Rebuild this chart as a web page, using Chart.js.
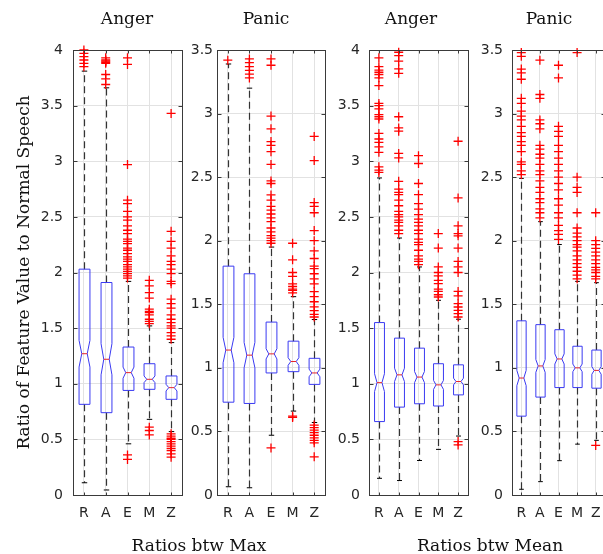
<!DOCTYPE html>
<html>
<head>
<meta charset="utf-8">
<script src="https://cdn.jsdelivr.net/npm/chart.js@4.4.0/dist/chart.umd.min.js"></script>
<style>
  html, body { margin: 0; padding: 0; background: #fff; }
  #lienzo { position: relative; width: 603px; height: 554px; overflow: hidden; }
  #lienzo canvas { position: absolute; top: 0; }
  .texto { position: absolute; font-family: 'DejaVu Serif', serif; font-size: 17px; line-height: 20px;
           color: #111; transform: translateX(-50%); white-space: nowrap; }
</style>
</head>
<body>
<div id="lienzo">
  <canvas id="panel0" width="190" height="554" style="left:0px"></canvas>
  <canvas id="panel1" width="150" height="554" style="left:185px"></canvas>
  <canvas id="panel2" width="140" height="554" style="left:335px"></canvas>
  <canvas id="panel3" width="140" height="554" style="left:475px"></canvas>
  <div class="texto" style="left:127px;top:8px">Anger</div>
  <div class="texto" style="left:266px;top:8px">Panic</div>
  <div class="texto" style="left:411px;top:8px">Anger</div>
  <div class="texto" style="left:549px;top:8px">Panic</div>
  <div class="texto" style="left:199px;top:535px">Ratios btw Max</div>
  <div class="texto" style="left:490px;top:535px">Ratios btw Mean</div>
</div>
<script>
// Datos
const categorias = ['R', 'A', 'E', 'M', 'Z'];
const limitesY = [4, 3.5, 4, 3.5];

// cada fila: [bigote inferior, q1, mediana, q3, bigote superior, media muesca]
const cajasMaxAnger = [
    [0.11, 0.815, 1.27, 2.03, 3.81, 0.12],
    [0.045, 0.74, 1.22, 1.91, 3.66, 0.14],
    [0.46, 0.94, 1.10, 1.33, 1.92, 0.05],
    [0.68, 0.95, 1.04, 1.18, 1.52, 0.03],
    [0.57, 0.86, 0.965, 1.07, 1.37, 0.03]
];
const cajasMaxPanic = [
    [0.065, 0.73, 1.14, 1.80, 3.39, 0.10],
    [0.057, 0.72, 1.10, 1.74, 3.20, 0.10],
    [0.47, 0.96, 1.11, 1.36, 1.95, 0.04],
    [0.66, 0.97, 1.05, 1.21, 1.56, 0.03],
    [0.57, 0.87, 0.96, 1.075, 1.38, 0.03]
];
const cajasMeanAnger = [
    [0.15, 0.66, 1.01, 1.55, 2.85, 0.08],
    [0.13, 0.79, 1.08, 1.41, 2.31, 0.06],
    [0.31, 0.82, 1.06, 1.32, 2.05, 0.05],
    [0.41, 0.80, 0.99, 1.18, 1.75, 0.04],
    [0.53, 0.90, 1.02, 1.17, 1.58, 0.03]
];
const cajasMeanPanic = [
    [0.045, 0.62, 0.92, 1.37, 2.49, 0.06],
    [0.105, 0.77, 1.015, 1.34, 2.15, 0.05],
    [0.27, 0.845, 1.07, 1.30, 1.97, 0.04],
    [0.40, 0.845, 1.0, 1.17, 1.68, 0.03],
    [0.43, 0.84, 0.98, 1.14, 1.67, 0.03]
];

// valores atipicos (+ rojos) por categoria
const atipicosMaxAnger = [
    [4.0, 3.97, 3.94, 3.91, 3.88, 3.85],
    [3.93, 3.91, 3.90, 3.89, 3.88, 3.78, 3.74, 3.69],
    [3.93, 3.87, 2.97, 2.65, 2.62, 2.55, 2.5, 2.47, 2.42, 2.38, 2.35, 2.3, 2.28, 2.26, 2.22, 2.2, 2.17,
     2.14, 2.12, 2.1, 2.07, 2.05, 2.03, 2.01, 1.99, 1.97, 1.95, 0.36, 0.32],
    [1.93, 1.88, 1.82, 1.77, 1.67, 1.65, 1.64, 1.62, 1.58, 1.56, 1.54, 0.61, 0.58, 0.54],
    [3.43, 2.37, 2.28, 2.22, 2.15, 2.1, 2.07, 2.03, 1.99, 1.92, 1.9, 1.76, 1.72, 1.68, 1.62, 1.58, 1.55,
     1.52, 1.5, 1.46, 1.43, 1.4, 0.55, 0.53, 0.51, 0.5, 0.48, 0.46, 0.44, 0.42, 0.4, 0.37, 0.34]
];
const atipicosMaxPanic = [
    [3.42],
    [3.43, 3.40, 3.37, 3.34, 3.31, 3.28],
    [3.43, 3.38, 2.98, 2.88, 2.78, 2.75, 2.70, 2.60, 2.47, 2.45, 2.36, 2.32, 2.27, 2.24, 2.21, 2.18,
     2.15, 2.1, 2.07, 2.04, 2.02, 2.0, 1.98, 0.37],
    [1.98, 1.85, 1.75, 1.72, 1.66, 1.64, 1.62, 1.61, 1.59, 0.62, 0.61],
    [2.82, 2.63, 2.3, 2.27, 2.22, 2.08, 2.0, 1.92, 1.86, 1.8, 1.78, 1.74, 1.7, 1.66, 1.6, 1.56, 1.52,
     1.48, 1.45, 1.42, 1.4, 0.55, 0.53, 0.51, 0.49, 0.47, 0.45, 0.43, 0.41, 0.30]
];
const atipicosMeanAnger = [
    [3.93, 3.85, 3.82, 3.8, 3.78, 3.75, 3.68, 3.52, 3.5, 3.47, 3.42, 3.4, 3.38, 3.25, 3.2, 3.17, 3.13,
     3.08, 2.95, 2.92, 2.9],
    [3.98, 3.95, 3.9, 3.83, 3.79, 3.4, 3.3, 3.27, 3.07, 3.03, 2.82, 2.75, 2.72, 2.7, 2.65, 2.6, 2.55,
     2.52, 2.5, 2.47, 2.45, 2.42, 2.38, 2.35],
    [3.05, 2.98, 2.8, 2.7, 2.62, 2.57, 2.52, 2.48, 2.45, 2.42, 2.38, 2.35, 2.3, 2.27, 2.25, 2.2, 2.15,
     2.12, 2.1, 2.07],
    [2.35, 2.22, 2.05, 2.0, 1.97, 1.93, 1.9, 1.85, 1.83, 1.8, 1.78],
    [3.18, 2.67, 2.42, 2.35, 2.33, 2.22, 2.1, 2.05, 2.0, 1.83, 1.79, 1.72, 1.69, 1.66, 1.63, 1.6, 0.48, 0.45]
];
const atipicosMeanPanic = [
    [3.48, 3.45, 3.35, 3.32, 3.27, 3.12, 3.08, 3.02, 2.98, 2.95, 2.9, 2.85, 2.82, 2.78, 2.75, 2.7, 2.62,
     2.6, 2.55, 2.52],
    [3.42, 3.15, 3.12, 2.95, 2.92, 2.88, 2.75, 2.72, 2.68, 2.65, 2.6, 2.55, 2.52, 2.47, 2.42, 2.38, 2.33,
     2.3, 2.25, 2.22, 2.18],
    [3.38, 3.28, 2.9, 2.86, 2.82, 2.75, 2.7, 2.65, 2.6, 2.55, 2.5, 2.45, 2.4, 2.33, 2.28, 2.22, 2.18,
     2.12, 2.08, 2.05, 2.01],
    [3.48, 2.5, 2.42, 2.38, 2.22, 2.1, 2.06, 2.03, 2.0, 1.97, 1.95, 1.92, 1.88, 1.85, 1.82, 1.79, 1.76,
     1.73, 1.7],
    [2.22, 2.0, 1.97, 1.94, 1.91, 1.88, 1.85, 1.82, 1.79, 1.77, 1.75, 1.72, 1.7, 0.39]
];

// Plugin: cajas con muesca, bigotes discontinuos y mediana
const cajasPlugin = {
    id: 'cajas',
    beforeDatasetsDraw(chart, args, opts) {
        const ctx = chart.ctx;
        const xs = chart.scales.x, ys = chart.scales.y;
        const paso = xs.getPixelForValue(1) - xs.getPixelForValue(0);
        const mw = paso * 0.25;
        const py = v => ys.getPixelForValue(v);
        (opts.cajas || []).forEach((c, i) => {
            const [lo, q1, med, q3, hi, muesca] = c;
            const cx = Math.round(xs.getPixelForValue(i)) + 0.5;
            ctx.save();
            ctx.lineWidth = 1.2;
            ctx.strokeStyle = '#333';
            ctx.setLineDash([7, 4]);
            ctx.beginPath();
            ctx.moveTo(cx, py(q3)); ctx.lineTo(cx, py(hi));
            ctx.moveTo(cx, py(q1)); ctx.lineTo(cx, py(lo));
            ctx.stroke();
            ctx.setLineDash([]);
            ctx.lineWidth = 1;
            ctx.strokeStyle = '#000';
            ctx.beginPath();
            ctx.moveTo(cx - mw / 2, py(hi)); ctx.lineTo(cx + mw / 2, py(hi));
            ctx.moveTo(cx - mw / 2, py(lo)); ctx.lineTo(cx + mw / 2, py(lo));
            ctx.stroke();
            const nLo = Math.max(q1, med - muesca), nHi = Math.min(q3, med + muesca);
            ctx.strokeStyle = '#3a3af2';
            ctx.beginPath();
            ctx.moveTo(cx - mw, py(q1));
            ctx.lineTo(cx - mw, py(nLo));
            ctx.lineTo(cx - mw / 2, py(med));
            ctx.lineTo(cx - mw, py(nHi));
            ctx.lineTo(cx - mw, py(q3));
            ctx.lineTo(cx + mw, py(q3));
            ctx.lineTo(cx + mw, py(nHi));
            ctx.lineTo(cx + mw / 2, py(med));
            ctx.lineTo(cx + mw, py(nLo));
            ctx.lineTo(cx + mw, py(q1));
            ctx.closePath();
            ctx.stroke();
            ctx.strokeStyle = '#e8242a';
            ctx.beginPath();
            ctx.moveTo(cx - mw / 2, py(med)); ctx.lineTo(cx + mw / 2, py(med));
            ctx.stroke();
            ctx.restore();
        });
    }
};

// Plugin: marco del eje con marcas hacia dentro
const marcoPlugin = {
    id: 'marco',
    afterDraw(chart) {
        const { ctx, chartArea: a } = chart;
        const l = Math.round(a.left) + 0.5, r = Math.round(a.right) + 0.5;
        const t = Math.round(a.top) + 0.5, b = Math.round(a.bottom) + 0.5;
        ctx.save();
        ctx.strokeStyle = '#3a3a3a';
        ctx.lineWidth = 1;
        ctx.strokeRect(l, t, r - l, b - t);
        ctx.beginPath();
        chart.scales.y.ticks.forEach(tk => {
            const y = Math.round(chart.scales.y.getPixelForValue(tk.value)) + 0.5;
            ctx.moveTo(l, y); ctx.lineTo(l + 4, y);
            ctx.moveTo(r - 4, y); ctx.lineTo(r, y);
        });
        chart.scales.x.ticks.forEach(tk => {
            const x = Math.round(chart.scales.x.getPixelForValue(tk.value)) + 0.5;
            ctx.moveTo(x, b); ctx.lineTo(x, b - 3);
            ctx.moveTo(x, t); ctx.lineTo(x, t + 3);
        });
        ctx.stroke();
        ctx.restore();
    }
};

const fuenteTicks = { family: "'DejaVu Sans', sans-serif", size: 14 };

function crearPanel(canvasId, cfg) {
    const puntos = [];
    cfg.atipicos.forEach((lista, i) => lista.forEach(v => puntos.push({ x: i, y: v })));

    return new Chart(document.getElementById(canvasId), {
        type: 'scatter',
        data: {
            datasets: [{
                data: puntos,
                pointStyle: 'cross',
                pointRadius: 4.5,
                borderColor: '#ff0000',
                backgroundColor: '#ff0000',
                borderWidth: 1.3,
                clip: 8
            }]
        },
        options: {
            responsive: false,
            animation: false,
            events: [],
            layout: { padding: { top: 50, right: cfg.padDer, left: 0, bottom: 0 } },
            plugins: {
                legend: { display: false },
                tooltip: { enabled: false },
                cajas: { cajas: cfg.cajas }
            },
            scales: {
                x: {
                    type: 'linear',
                    min: -0.5,
                    max: 4.5,
                    afterBuildTicks: s => { s.ticks = categorias.map((c, i) => ({ value: i })); },
                    afterFit: s => { s.height = 59; },
                    grid: { color: '#e2e2e2', drawTicks: false },
                    border: { display: false },
                    ticks: {
                        autoSkip: false,
                        maxRotation: 0,
                        padding: 10,
                        color: '#262626',
                        font: fuenteTicks,
                        callback: v => categorias[v]
                    }
                },
                y: {
                    min: 0,
                    max: cfg.yMax,
                    afterFit: s => { s.width = cfg.anchoY; },
                    grid: { color: '#e2e2e2', drawTicks: false },
                    border: { display: false },
                    ticks: {
                        stepSize: 0.5,
                        padding: cfg.gapY,
                        color: '#262626',
                        font: fuenteTicks,
                        callback: v => String(v)
                    },
                    title: {
                        display: !!cfg.tituloY,
                        text: cfg.tituloY || '',
                        color: '#111',
                        font: { family: "'DejaVu Serif', serif", size: 17 },
                        padding: { top: 14, bottom: 0 }
                    }
                }
            }
        },
        plugins: [cajasPlugin, marcoPlugin]
    });
}

crearPanel('panel0', { cajas: cajasMaxAnger, atipicos: atipicosMaxAnger, yMax: limitesY[0],
    anchoY: 73, padDer: 8, gapY: 10, tituloY: 'Ratio of Feature Value to Normal Speech' });
crearPanel('panel1', { cajas: cajasMaxPanic, atipicos: atipicosMaxPanic, yMax: limitesY[1],
    anchoY: 32, padDer: 10, gapY: 4 });
crearPanel('panel2', { cajas: cajasMeanAnger, atipicos: atipicosMeanAnger, yMax: limitesY[2],
    anchoY: 34, padDer: 7, gapY: 9 });
crearPanel('panel3', { cajas: cajasMeanPanic, atipicos: atipicosMeanPanic, yMax: limitesY[3],
    anchoY: 37, padDer: 10, gapY: 9 });
</script>
</body>
</html>
